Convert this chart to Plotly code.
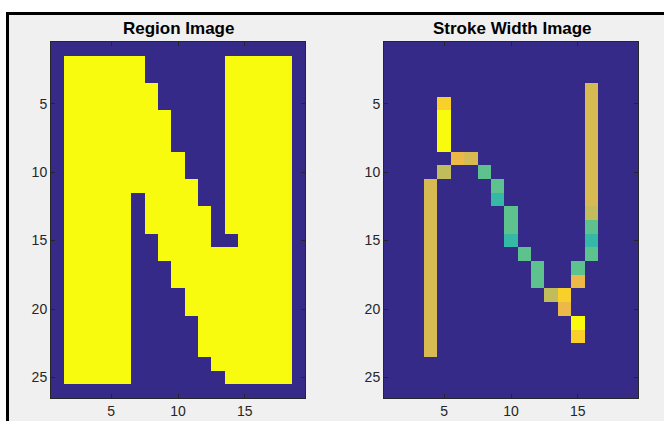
import plotly.graph_objects as go

# ---------------- data ----------------
n_rows = 26
n_cols = 19

# Region image: each row lists the (1-based) column runs that are "on"
region_runs = [
    [],                               # 1
    [(2, 7), (14, 18)],               # 2
    [(2, 7), (14, 18)],               # 3
    [(2, 8), (14, 18)],               # 4
    [(2, 8), (14, 18)],               # 5
    [(2, 9), (14, 18)],               # 6
    [(2, 9), (14, 18)],               # 7
    [(2, 9), (14, 18)],               # 8
    [(2, 10), (14, 18)],              # 9
    [(2, 10), (14, 18)],              # 10
    [(2, 11), (14, 18)],              # 11
    [(2, 6), (8, 11), (14, 18)],      # 12
    [(2, 6), (8, 12), (14, 18)],      # 13
    [(2, 6), (8, 12), (14, 18)],      # 14
    [(2, 6), (9, 12), (15, 18)],      # 15
    [(2, 6), (9, 18)],                # 16
    [(2, 6), (10, 18)],               # 17
    [(2, 6), (10, 18)],               # 18
    [(2, 6), (11, 18)],               # 19
    [(2, 6), (11, 18)],               # 20
    [(2, 6), (12, 18)],               # 21
    [(2, 6), (12, 18)],               # 22
    [(2, 6), (12, 18)],               # 23
    [(2, 6), (13, 18)],               # 24
    [(2, 6), (14, 18)],               # 25
    [],                               # 26
]

# Stroke width image: non-zero pixels (row, col, width)
stroke_rows = [5, 6, 7, 8, 9, 9, 10, 10,
               11, 12, 13, 14, 15, 16, 17, 18, 19, 19, 20, 21, 22, 17, 18,
               4, 5, 6, 7, 8, 9, 10, 11, 12, 13, 14, 15, 16,
               11, 12, 13, 14, 15, 16, 17, 18, 19, 20, 21, 22, 23]
stroke_cols = [5, 5, 5, 5, 6, 7, 5, 8,
               9, 9, 10, 10, 10, 11, 12, 12, 13, 14, 14, 15, 15, 15, 15,
               16, 16, 16, 16, 16, 16, 16, 16, 16, 16, 16, 16, 16,
               4, 4, 4, 4, 4, 4, 4, 4, 4, 4, 4, 4, 4]
stroke_widths = [5.5, 6.0, 6.0, 6.0, 5.0, 4.75, 4.6, 3.9,
                 3.9, 3.5, 3.9, 3.9, 3.5, 3.9, 3.9, 3.9, 4.6, 5.5, 5.0, 6.0, 5.5, 3.9, 5.0,
                 4.75, 4.75, 4.75, 4.75, 4.75, 4.75, 4.75, 4.75, 4.75, 4.6, 3.9, 3.5, 3.9,
                 4.75, 4.75, 4.75, 4.75, 4.75, 4.75, 4.75, 4.75, 4.75, 4.75, 4.75, 4.75, 4.75]

x_tick_vals = [5, 10, 15]
y_tick_vals = [5, 10, 15, 20, 25]
titles = ["Region Image", "Stroke Width Image"]

# ---------------- build matrices ----------------
region = [[0] * n_cols for _ in range(n_rows)]
for r, runs in enumerate(region_runs):
    for a, b in runs:
        for c in range(a, b + 1):
            region[r][c - 1] = 1

swi = [[0.0] * n_cols for _ in range(n_rows)]
for r, c, w in zip(stroke_rows, stroke_cols, stroke_widths):
    swi[r - 1][c - 1] = w

xs = list(range(1, n_cols + 1))
ys = list(range(1, n_rows + 1))

W, H = 664, 421
DARK = "rgb(53,42,135)"
binary_scale = [[0, DARK], [1, "rgb(249,251,14)"]]
parula_like = [
    [0.0, DARK],
    [0.125, "rgb(8,94,220)"],
    [0.25, "rgb(18,126,215)"],
    [0.375, "rgb(8,156,204)"],
    [0.5, "rgb(30,178,178)"],
    [0.583, "rgb(53,184,165)"],
    [0.65, "rgb(93,194,142)"],
    [0.767, "rgb(193,188,92)"],
    [0.792, "rgb(216,186,82)"],
    [0.833, "rgb(236,184,72)"],
    [0.917, "rgb(249,208,42)"],
    [1.0, "rgb(249,251,14)"],
]

fig = go.Figure()
fig.add_trace(go.Heatmap(z=region, x=xs, y=ys, colorscale=binary_scale, zmin=0, zmax=1,
                         showscale=False, xaxis="x", yaxis="y", hoverinfo="skip"))
fig.add_trace(go.Heatmap(z=swi, x=xs, y=ys, colorscale=parula_like, zmin=0, zmax=6,
                         showscale=False, xaxis="x2", yaxis="y2", hoverinfo="skip"))

def px_x(p):
    return p / W

def px_y(p):
    return 1 - p / H

dom_y = [px_y(398), px_y(42)]
dom_x1 = [px_x(51), px_x(305)]
dom_x2 = [px_x(384), px_x(638)]

tickfont = dict(family="Liberation Sans, Arial, sans-serif", size=14, color="#262626")
axis_common = dict(showgrid=False, zeroline=False, ticks="inside", ticklen=4,
                   tickcolor="#262626", tickwidth=1, showline=True, linecolor="#262626",
                   linewidth=1, mirror="ticks", tickfont=tickfont)

fig.update_layout(
    width=W, height=H,
    margin=dict(l=0, r=0, t=0, b=0),
    paper_bgcolor="white",
    plot_bgcolor=DARK,
    xaxis=dict(domain=dom_x1, range=[0.5, n_cols + 0.5], tickvals=x_tick_vals, anchor="y", **axis_common),
    yaxis=dict(domain=dom_y, range=[n_rows + 0.5, 0.5], tickvals=y_tick_vals, anchor="x", **axis_common),
    xaxis2=dict(domain=dom_x2, range=[0.5, n_cols + 0.5], tickvals=x_tick_vals, anchor="y2", **axis_common),
    yaxis2=dict(domain=dom_y, range=[n_rows + 0.5, 0.5], tickvals=y_tick_vals, anchor="x2", **axis_common),
    showlegend=False,
)

# figure frame: grey panel with black border on top/left
fig.add_shape(type="rect", xref="paper", yref="paper", x0=px_x(6), x1=1, y0=0, y1=px_y(12),
              fillcolor="#F0F0F0", line=dict(width=0), layer="below")
fig.add_shape(type="line", xref="paper", yref="paper", x0=px_x(6), x1=1, y0=px_y(13.5), y1=px_y(13.5),
              line=dict(color="black", width=3), layer="below")
fig.add_shape(type="line", xref="paper", yref="paper", x0=px_x(7.5), x1=px_x(7.5), y0=0, y1=px_y(12),
              line=dict(color="black", width=3), layer="below")

for t, cx in zip(titles, [178, 512]):
    fig.add_annotation(text="<b>%s</b>" % t, xref="paper", yref="paper", x=px_x(cx), y=px_y(28.5),
                       xanchor="center", yanchor="middle", showarrow=False,
                       font=dict(family="Liberation Sans, Arial, sans-serif", size=17, color="black"))

fig.write_html("out.html", config={"displayModeBar": False},
               post_script="document.body.style.margin='0';document.body.style.padding='0';")
